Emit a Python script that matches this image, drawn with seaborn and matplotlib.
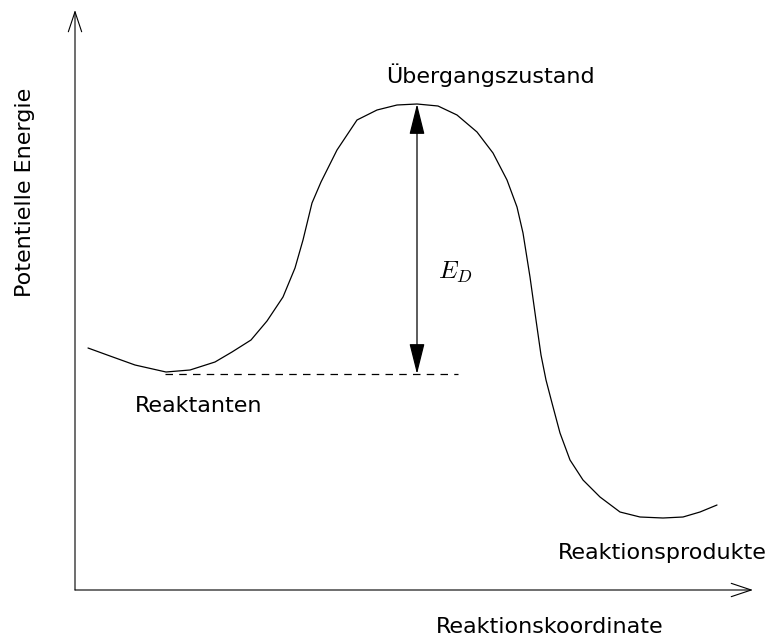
import numpy as np
import pandas as pd
import seaborn as sns
import matplotlib.pyplot as plt

sns.set_theme(style="white")
plt.rcParams['font.family'] = ['DejaVu Sans']
plt.rcParams['mathtext.fontset'] = 'cm'
plt.rcParams['text.color'] = 'black'

# energy profile (arbitrary units, origin at the axes corner)
reaktionskoordinate = [13, 35, 60, 91, 115, 140, 157, 176, 192, 208, 220, 228, 237, 246,
                       262, 282, 302, 322, 342, 363, 382, 402, 418, 432, 442, 448, 455,
                       461, 466, 471, 477, 485, 495, 508, 525, 545, 565, 588, 608,
                       625, 642]
energie = [242, 234, 225, 218, 220, 228, 238, 250, 269, 293, 322, 350, 387, 408,
           440, 470, 480, 485, 486, 484, 475, 458, 437, 410, 383, 357, 313,
           270, 235, 210, 187, 157, 130, 110, 93, 78, 73, 72, 73,
           78, 85]

e_reaktanten = 216
e_uebergang = 486
x_uebergang = 342
dash_von, dash_bis = 90, 383
achse_x_ende, achse_y_ende = 678, 580

df = pd.DataFrame({'x': reaktionskoordinate, 'E': energie})

fig = plt.figure(figsize=(7.68, 6.42), dpi=100)
ax = fig.add_axes([0, 0, 1, 1])

sns.lineplot(data=df, x='x', y='E', ax=ax, color='black', lw=0.9,
             estimator=None, sort=False)

# dashed reactant level
ax.plot([dash_von, dash_bis], [e_reaktanten, e_reaktanten], color='black',
        lw=0.9, ls=(0, (6, 5)))

# activation energy arrow
ax.annotate('', xy=(x_uebergang, e_uebergang), xytext=(x_uebergang, e_reaktanten),
            arrowprops=dict(arrowstyle='<|-|>,head_length=1.6,head_width=0.4',
                            color='black', lw=0.9, shrinkA=0, shrinkB=0))

# coordinate axes with open arrow heads
ax.annotate('', xy=(0, achse_y_ende), xytext=(0, 0),
            arrowprops=dict(arrowstyle='->,head_length=1.2,head_width=0.4',
                            color='black', lw=0.8, shrinkA=0, shrinkB=0))
ax.annotate('', xy=(achse_x_ende, 0), xytext=(0, 0),
            arrowprops=dict(arrowstyle='->,head_length=1.2,head_width=0.4',
                            color='black', lw=0.8, shrinkA=0, shrinkB=0))

fs = 16
ax.text(415, 515, 'Übergangszustand', ha='center', va='center', fontsize=fs)
ax.text(380, 318, r'$E_D$', ha='center', va='center', fontsize=fs + 2)
ax.text(124, 184, 'Reaktanten', ha='center', va='center', fontsize=fs)
ax.text(692, 37, 'Reaktionsprodukte', ha='right', va='center', fontsize=fs)
ax.text(475, -37, 'Reaktionskoordinate', ha='center', va='center', fontsize=fs)
ax.text(-50, 398, 'Potentielle Energie', ha='center', va='center',
        rotation=90, fontsize=fs)

ax.set_xlim(-75, 693)
ax.set_ylim(-52, 590)
ax.axis('off')

fig.savefig('out.png', dpi=100, facecolor='white')
